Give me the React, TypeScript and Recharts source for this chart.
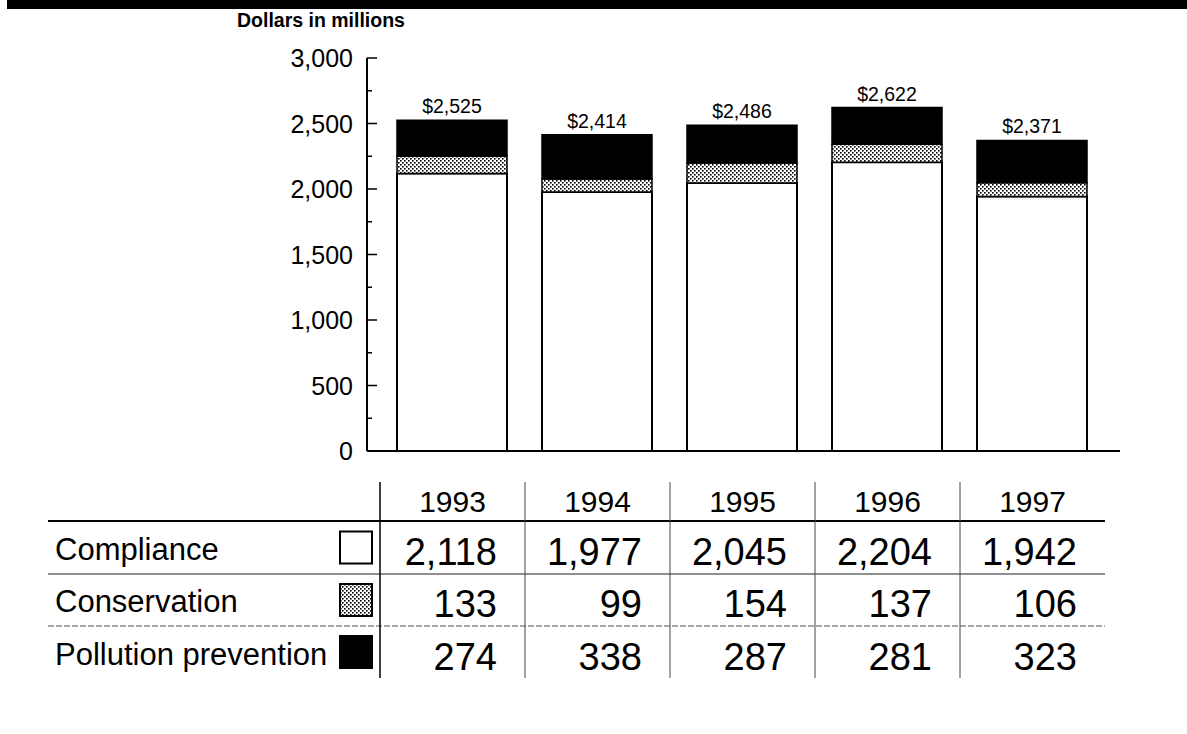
import { BarChart, Bar, XAxis, YAxis, LabelList } from 'recharts'

const years = ['1993', '1994', '1995', '1996', '1997']
const compliance = [2118, 1977, 2045, 2204, 1942]
const conservation = [133, 99, 154, 137, 106]
const pollution = [274, 338, 287, 281, 323]
const yTicks = [0, 250, 500, 750, 1000, 1250, 1500, 1750, 2000, 2250, 2500, 2750, 3000]

const FONT = '"Liberation Sans", Arial, Helvetica, sans-serif'

// layout
const W = 1187
const H = 734
const CHART_H = 470
const AXIS_X = 367
const COL_X = 380
const COL_W = 145
const TABLE_LEFT = 48
const TABLE_RIGHT = COL_X + COL_W * years.length

const data = years.map((year, i) => ({
  year,
  compliance: compliance[i],
  conservation: conservation[i],
  pollution: pollution[i],
  total: compliance[i] + conservation[i] + pollution[i],
}))

const fmt = (v: number) => v.toLocaleString('en-US')

function YTick(props: any) {
  const { y, payload } = props
  const major = payload.value % 500 === 0
  return (
    <g>
      <line x1={AXIS_X} x2={AXIS_X + (major ? 10 : 5)} y1={y} y2={y} stroke="#000" strokeWidth={1.5} />
      {major && (
        <text x={353} y={y} dy="0.36em" textAnchor="end" fontSize={25} fill="#000" fontFamily={FONT}>
          {fmt(payload.value)}
        </text>
      )}
    </g>
  )
}

const rows = [
  { label: 'Compliance', values: compliance, swatch: '#fff', top: 521, bottom: 574, labelY: 560, valueY: 565, line: 'solid' },
  { label: 'Conservation', values: conservation, swatch: 'url(#dots2)', top: 574, bottom: 626, labelY: 612, valueY: 617, line: 'dashed' },
  { label: 'Pollution prevention', values: pollution, swatch: '#000', top: 626, bottom: 678, labelY: 665, valueY: 670, line: 'none' },
]

function Table() {
  return (
    <svg width={W} height={H} style={{ position: 'absolute', left: 0, top: 0 }}>
      <defs>
        <pattern id="dots2" patternUnits="userSpaceOnUse" width={4} height={4}>
          <rect width={4} height={4} fill="#fff" />
          <rect x={0} y={0} width={1.6} height={1.6} fill="#000" />
          <rect x={2} y={2} width={1.6} height={1.6} fill="#000" />
        </pattern>
      </defs>
      {years.map((y, i) => (
        <text key={y} x={COL_X + COL_W * i + COL_W / 2} y={512} textAnchor="middle" fontSize={30} fontFamily={FONT} fill="#000">
          {y}
        </text>
      ))}
      <line x1={TABLE_LEFT} x2={TABLE_RIGHT} y1={521} y2={521} stroke="#000" strokeWidth={2.2} />
      {rows.map((r) => (
        <g key={r.label}>
          <text x={55} y={r.labelY} fontSize={31} fontFamily={FONT} fill="#000">
            {r.label}
          </text>
          <rect x={340} y={(r.top + r.bottom) / 2 - 16} width={32} height={32} fill={r.swatch} stroke="#000" strokeWidth={2} />
          {r.values.map((v, i) => (
            <text key={i} x={COL_X + COL_W * (i + 1) - 28} y={r.valueY} textAnchor="end" fontSize={38} fontFamily={FONT} fill="#000">
              {fmt(v)}
            </text>
          ))}
          {r.line !== 'none' && (
            <line
              x1={TABLE_LEFT}
              x2={TABLE_RIGHT}
              y1={r.bottom}
              y2={r.bottom}
              stroke={r.line === 'solid' ? '#222' : '#555'}
              strokeWidth={1.2}
              strokeDasharray={r.line === 'dashed' ? '6 2' : undefined}
            />
          )}
        </g>
      ))}
      <line x1={COL_X} x2={COL_X} y1={482} y2={678} stroke="#000" strokeWidth={1.5} />
      {years.slice(1).map((y, i) => (
        <line key={y} x1={COL_X + COL_W * (i + 1)} x2={COL_X + COL_W * (i + 1)} y1={482} y2={678} stroke="#444" strokeWidth={1} />
      ))}
    </svg>
  )
}

export default function App() {
  return (
    <div style={{ position: 'fixed', left: 0, top: 0, width: W, height: H, background: '#fff', fontFamily: FONT, overflow: 'hidden' }}>
      <div style={{ position: 'absolute', left: 7, top: 0, right: 0, height: 9, background: '#000' }} />
      <div style={{ position: 'absolute', left: 237, top: 9, fontSize: 19.5, fontWeight: 'bold', lineHeight: '22px' }}>
        Dollars in millions
      </div>
      <div style={{ position: 'absolute', left: 0, top: 0 }}>
        <BarChart width={W} height={CHART_H} data={data} margin={{ top: 58, right: 67, left: 0, bottom: 17 }} barSize={110}>
          <defs>
            <pattern id="dots" patternUnits="userSpaceOnUse" width={4} height={4}>
              <rect width={4} height={4} fill="#fff" />
              <rect x={0} y={0} width={1.6} height={1.6} fill="#000" />
              <rect x={2} y={2} width={1.6} height={1.6} fill="#000" />
            </pattern>
          </defs>
          <XAxis
            dataKey="year"
            height={2}
            tick={false}
            tickLine={false}
            padding={{ left: 12, right: 16 }}
            axisLine={{ stroke: '#000', strokeWidth: 2 }}
          />
          <YAxis
            width={AXIS_X}
            domain={[0, 3000]}
            ticks={yTicks}
            interval={0}
            tickLine={false}
            tick={<YTick />}
            axisLine={{ stroke: '#000', strokeWidth: 2 }}
          />
          <Bar dataKey="compliance" stackId="a" fill="#fff" stroke="#000" strokeWidth={2} isAnimationActive={false} />
          <Bar dataKey="conservation" stackId="a" fill="url(#dots)" stroke="#000" strokeWidth={1.5} isAnimationActive={false} />
          <Bar dataKey="pollution" stackId="a" fill="#000" stroke="#000" strokeWidth={1.5} isAnimationActive={false}>
            <LabelList
              dataKey="total"
              position="top"
              offset={7}
              formatter={(v: any) => `$${fmt(Number(v))}`}
              fill="#000"
              fontSize={19.5}
              fontFamily={FONT}
            />
          </Bar>
        </BarChart>
      </div>
      <Table />
    </div>
  )
}
